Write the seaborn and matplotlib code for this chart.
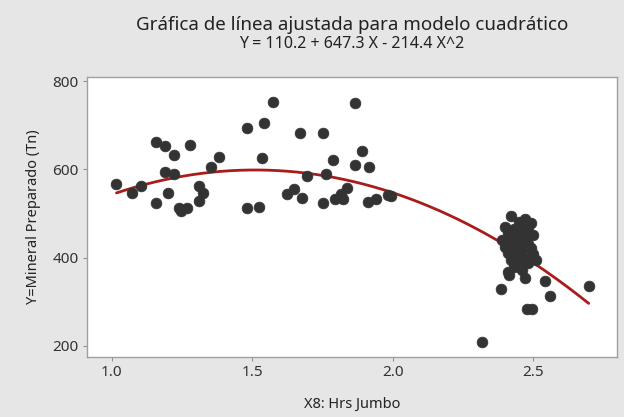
import numpy as np
import pandas as pd
import seaborn as sns
from matplotlib import pyplot as plt

# Hrs Jumbo (X8) vs Mineral Preparado (Y)
hrs_jumbo = [
    1.017, 1.072, 1.104, 1.156, 1.190, 1.220, 1.280, 1.188, 1.221, 1.200,
    1.156, 1.240, 1.268, 1.248, 1.311, 1.325, 1.310, 1.353, 1.382,
    1.480, 1.542, 1.574, 1.536, 1.480, 1.524, 1.671, 1.751, 1.695, 1.762,
    1.787, 1.624, 1.647, 1.678, 1.750, 1.793, 1.817, 1.836, 1.823, 1.865,
    1.892, 1.866, 1.915, 1.911, 1.941, 1.984, 1.995,
    2.318, 2.386, 2.472, 2.543, 2.558, 2.478, 2.495, 2.697, 2.415,
    2.42, 2.47, 2.45, 2.49, 2.40, 2.43, 2.46, 2.48, 2.41, 2.44,
    2.47, 2.50, 2.42, 2.45, 2.48, 2.40, 2.43, 2.46, 2.49, 2.41,
    2.44, 2.47, 2.50, 2.42, 2.45, 2.48, 2.43, 2.46, 2.41, 2.44,
    2.51, 2.39,
]
mineral = [
    567, 547, 563, 663, 652, 633, 656, 595, 590, 547,
    524, 513, 513, 505, 562, 547, 528, 606, 629,
    695, 706, 753, 625, 513, 516, 683, 683, 586, 590,
    622, 545, 556, 535, 525, 534, 545, 559, 532, 750,
    641, 610, 606, 526, 533, 542, 540,
    210, 330, 353, 347, 313, 283, 283, 335, 360,
    495, 487, 480, 478, 470, 465, 462, 470, 455, 450,
    448, 452, 440, 436, 432, 425, 420, 418, 422, 410,
    405, 400, 408, 395, 390, 388, 378, 372, 368, 382,
    395, 440,
]

# fitted quadratic: Y = 110.2 + 647.3 X - 214.4 X^2
b0, b1, b2 = 110.2, 647.3, -214.4

df = pd.DataFrame({"x": hrs_jumbo, "y": mineral})
xfit = np.linspace(min(hrs_jumbo), max(hrs_jumbo), 200)
fit = pd.DataFrame({"x": xfit, "y": b0 + b1 * xfit + b2 * xfit ** 2})

sns.set_style("white")
plt.rcParams["font.family"] = ["Noto Sans", "DejaVu Sans"]

fig = plt.figure(figsize=(6.24, 4.17), dpi=100, facecolor="#e6e6e6")
ax = fig.add_axes([0.1394, 0.1439, 0.8486, 0.672])
ax.set_facecolor("white")

sns.lineplot(data=fit, x="x", y="y", ax=ax, color="#a81c1c", linewidth=2, zorder=1)
sns.scatterplot(data=df, x="x", y="y", ax=ax, color="#333333", s=60,
                edgecolor="#333333", linewidth=0.5, zorder=2)

ax.set_xlim(0.912, 2.796)
ax.set_ylim(175, 810)
ax.set_xticks([1.0, 1.5, 2.0, 2.5])
ax.set_yticks([200, 400, 600, 800])

for s in ax.spines.values():
    s.set_color("#a0a0a0")
    s.set_linewidth(1)
ax.tick_params(axis="both", which="both", direction="out", length=3, width=0.8,
               color="#909090", labelsize=11, labelcolor="#333333", pad=3)
ax.tick_params(bottom=True, left=True)

ax.set_xlabel("X8: Hrs Jumbo", fontsize=10.5, color="#222222", labelpad=12)
ax.set_ylabel("Y=Mineral Preparado (Tn)", fontsize=10.5, color="#222222", labelpad=8)

fig.text(0.564, 0.928, "Gráfica de línea ajustada para modelo cuadrático",
         ha="center", va="baseline", fontsize=13.5, color="#222222")
fig.text(0.564, 0.884, "Y = 110.2 + 647.3 X - 214.4 X^2",
         ha="center", va="baseline", fontsize=11.5, color="#222222")

plt.savefig("out.png", dpi=100, facecolor=fig.get_facecolor())
